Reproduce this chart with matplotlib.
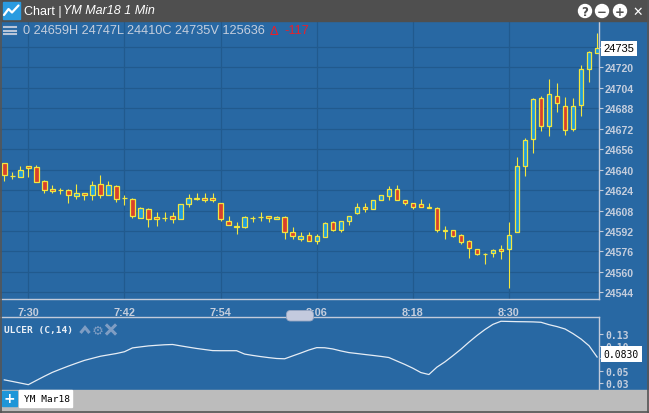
import matplotlib
matplotlib.use("Agg")
import matplotlib.pyplot as plt
from matplotlib.patches import Rectangle, Circle, FancyBboxPatch
from matplotlib.transforms import blended_transform_factory
import numpy as np
import pandas as pd

# --- data: YM Mar18, 1 minute bars from 7:27 ---
start = "2018-03-01 07:27"
opens = [24645, 24635, 24634, 24643, 24642, 24631, 24625, 24624, 24624, 24619,
         24622, 24620, 24629, 24620, 24627, 24618, 24617, 24602, 24609, 24603,
         24602, 24604, 24601, 24613, 24618, 24618, 24618, 24614, 24600, 24596,
         24595, 24602, 24603, 24604, 24601, 24603, 24591, 24586, 24589, 24584,
         24587, 24599, 24593, 24600, 24606, 24611, 24609, 24616, 24619, 24625,
         24616, 24614, 24613, 24611, 24610, 24593, 24593, 24589, 24584, 24578,
         24574, 24575, 24578, 24578, 24591, 24643, 24664, 24696, 24674, 24698,
         24690, 24672, 24691, 24719, 24731]
highs = [24645, 24638, 24643, 24643, 24644, 24632, 24628, 24626, 24625, 24629,
         24622, 24631, 24636, 24631, 24628, 24620, 24618, 24611, 24610, 24607,
         24607, 24607, 24613, 24621, 24622, 24622, 24622, 24614, 24604, 24599,
         24604, 24604, 24607, 24604, 24604, 24604, 24595, 24591, 24591, 24590,
         24599, 24600, 24600, 24604, 24614, 24614, 24616, 24620, 24627, 24628,
         24616, 24614, 24617, 24614, 24611, 24596, 24593, 24590, 24585, 24578,
         24575, 24578, 24581, 24599, 24650, 24665, 24696, 24698, 24711, 24708,
         24697, 24696, 24722, 24733, 24747]
lows = [24631, 24633, 24634, 24634, 24630, 24622, 24622, 24621, 24614, 24617,
        24616, 24616, 24618, 24620, 24615, 24612, 24602, 24602, 24595, 24596,
        24600, 24598, 24601, 24611, 24616, 24615, 24615, 24600, 24597, 24590,
        24594, 24599, 24600, 24599, 24601, 24586, 24586, 24584, 24584, 24582,
        24587, 24592, 24591, 24597, 24605, 24607, 24609, 24616, 24616, 24616,
        24612, 24609, 24611, 24610, 24591, 24586, 24587, 24582, 24571, 24573,
        24566, 24572, 24570, 24547, 24591, 24635, 24653, 24670, 24666, 24685,
        24667, 24670, 24682, 24709, 24731]
closes = [24636, 24635, 24640, 24641, 24630, 24624, 24623, 24624, 24620, 24622,
          24620, 24628, 24620, 24628, 24617, 24618, 24604, 24610, 24601, 24601,
          24602, 24601, 24613, 24618, 24617, 24616, 24616, 24601, 24597, 24595,
          24603, 24602, 24603, 24602, 24603, 24591, 24588, 24588, 24584, 24588,
          24598, 24593, 24600, 24604, 24611, 24609, 24616, 24620, 24625, 24616,
          24614, 24611, 24611, 24610, 24593, 24592, 24588, 24583, 24579, 24574,
          24574, 24577, 24576, 24589, 24643, 24663, 24695, 24674, 24699, 24692,
          24671, 24690, 24719, 24732, 24735]
ulcer = [0.0364, 0.0332, 0.0299, 0.0266, 0.0352, 0.0437, 0.0517, 0.0582, 0.0645, 0.0704,
         0.0761, 0.0804, 0.0846, 0.0874, 0.0902, 0.0938, 0.1016, 0.1037, 0.1057, 0.1069,
         0.1080, 0.1086, 0.1058, 0.1031, 0.1005, 0.0983, 0.0961, 0.0959, 0.0959, 0.0959,
         0.0890, 0.0863, 0.0839, 0.0818, 0.0800, 0.0794, 0.0853, 0.0911, 0.0972, 0.1022,
         0.1019, 0.0995, 0.0955, 0.0921, 0.0902, 0.0882, 0.0863, 0.0843, 0.0820, 0.0749,
         0.0679, 0.0602, 0.0513, 0.0473, 0.0623, 0.0731, 0.0857, 0.0989, 0.1133, 0.1268,
         0.1391, 0.1497, 0.1560, 0.1556, 0.1552, 0.1550, 0.1547, 0.1539, 0.1490, 0.1451,
         0.1402, 0.1307, 0.1197, 0.1059, 0.0830]

time_ticks = ["7:30", "7:42", "7:54", "8:06", "8:18", "8:30"]
price_ticks = list(range(24544, 24737, 16))
ulcer_ticks = [0.03, 0.055, 0.08, 0.105, 0.13]
ulcer_tick_labels = ["0.03", "0.05", "", "0.10", "0.13"]  # 0.08 sits under the value box
header_text = "0 24659H 24747L 24410C 24735V 125636"
change = -117

# colours
BLUE = "#2868a3"
GRID = "#215a8e"
AXIS = "#c3cbda"
LABEL = "#c5cedd"
YELLOW = "#f2e640"
UP = "#1e9be0"
DOWN = "#d8402c"
BAR = "#4f4f4f"
ICON = "#7f9dc3"

W, H = 649, 414


def box(x0, y0, x1, y1):
    # pixel box (top-left origin) -> figure fraction
    return [x0 / W, 1 - y1 / H, (x1 - x0) / W, (y1 - y0) / H]


fig = plt.figure(figsize=(W / 100, H / 100), dpi=100, facecolor=BLUE)
ax = fig.add_axes(box(0, 22, 598.7, 300), facecolor=BLUE)
low = fig.add_axes(box(0, 317.7, 598.7, 391), facecolor=BLUE)

n = len(opens)
x = np.arange(n)
o = np.array(opens)
c = np.array(closes)
fills = [UP if cc > oo else DOWN for oo, cc in zip(o, c)]

# candles
ax.vlines(x, lows, highs, color=YELLOW, lw=0.8, zorder=2)
ax.bar(x, np.abs(c - o), bottom=np.minimum(o, c), width=0.55, color=fills,
       edgecolor=YELLOW, linewidth=0.9, zorder=3)
ax.set_xlim(-0.537, 74.2)
ax.set_ylim(24538.75, 24756.4)

times = pd.date_range(start, periods=n, freq="min")
labels = [f"{t.hour}:{t.minute:02d}" for t in times]
pos = [i for i, l in enumerate(labels) if l in time_ticks]
ax.set_xticks(pos)
ax.set_xticklabels([labels[i] for i in pos], fontweight="bold")
ax.tick_params(axis="x", length=0, pad=6, labelcolor=LABEL, labelsize=7.8)

ax.yaxis.tick_right()
ax.set_yticks(price_ticks)
ax.set_yticklabels([str(p) if p != price_ticks[-1] else "" for p in price_ticks],
                   fontweight="bold")
ax.tick_params(axis="y", length=3, width=0.8, color=AXIS, pad=1.5,
               labelcolor=LABEL, labelsize=7.6)
for lab in ax.get_xticklabels() + ax.get_yticklabels():
    lab.set_family("Liberation Sans")
ax.grid(True, color=GRID, lw=0.9)
ax.set_axisbelow(True)
for s in ["top", "left"]:
    ax.spines[s].set_visible(False)
for s in ["right", "bottom"]:
    ax.spines[s].set_color(AXIS)
    ax.spines[s].set_linewidth(1)

trans = blended_transform_factory(ax.transAxes, ax.transData)
ax.text(1.008, closes[-1], str(closes[-1]), transform=trans, va="center", ha="left",
        fontsize=8, family="Liberation Sans", color="black", clip_on=False, zorder=10,
        bbox=dict(boxstyle="square,pad=0.22", fc="white", ec="none"))

# ulcer index panel
low.plot(x, ulcer, color="#e6edf5", lw=0.9)
low.set_xlim(-0.537, 74.2)
low.set_ylim(0.0157, 0.1653)
low.set_xticks([])
low.yaxis.tick_right()
low.set_yticks(ulcer_ticks)
low.set_yticklabels(ulcer_tick_labels, family="DejaVu Sans Mono", fontweight="bold")
low.tick_params(axis="y", length=3, width=0.8, color=AXIS, pad=1.5,
                labelcolor=LABEL, labelsize=7)
for s in ["bottom", "left"]:
    low.spines[s].set_visible(False)
for s in ["top", "right"]:
    low.spines[s].set_color(AXIS)
    low.spines[s].set_linewidth(1)
trans2 = blended_transform_factory(low.transAxes, low.transData)
low.text(1.008, ulcer[-1] + 0.006, f"{ulcer[-1]:.4f}", transform=trans2, va="center",
         ha="left", fontsize=7, family="DejaVu Sans Mono", color="black",
         clip_on=False, zorder=10,
         bbox=dict(boxstyle="square,pad=0.3", fc="white", ec="none"))

# window chrome drawn in pixel coordinates
ui = fig.add_axes([0, 0, 1, 1], zorder=5)
ui.set_xlim(0, W)
ui.set_ylim(H, 0)
ui.axis("off")
ui.patch.set_visible(False)

ui.add_patch(Rectangle((0, 0), W, 21.5, color=BAR))
ui.add_patch(Rectangle((2.7, 3.3), 17.3, 16.7, color="#2a9be0"))
ui.plot([4, 8.5, 12, 18.5], [16, 10, 13.5, 6.5], color="white", lw=1.6,
        solid_capstyle="round")
ui.text(24, 11.5, "Chart |", color="white", fontsize=9, family="Liberation Sans",
        va="center")
ui.text(63, 11.5, "YM Mar18 1 Min", color="white", fontsize=9, style="italic",
        family="Liberation Sans", va="center")
for cx, g in [(585, "?"), (602, "\u2212"), (620, "+")]:
    ui.add_patch(Circle((cx, 12), 6.5, color="white"))
    ui.text(cx, 12.3, g, color=BAR, fontsize=8.5, fontweight="bold", ha="center",
            va="center", family="DejaVu Sans")
ui.text(638, 12.3, "\u2715", color="white", fontsize=9, fontweight="bold",
        ha="center", va="center", family="DejaVu Sans")

# header row
for yy in [28, 31.7, 35.3]:
    ui.plot([4, 15.7], [yy, yy], color="#b9c5d8", lw=1.5)
ui.text(23, 31.5, header_text, color=LABEL, fontsize=9.2,
        family="Liberation Sans", va="center")
ui.text(270, 31.5, "\u0394", color="#e8202a", fontsize=9, family="DejaVu Sans",
        va="center")
ui.text(284, 31.5, str(change), color="#e8202a", fontsize=9.2,
        family="Liberation Sans", va="center")

# slider handle between panels
ui.add_patch(FancyBboxPatch((286.5, 311.5), 27, 10.5,
                            boxstyle="round,pad=0,rounding_size=4",
                            fc="#c3cade", ec="#9aa7c2", lw=0.6))

# study legend
ui.text(3.5, 330.5, "ULCER (C,14)", color="#eaf0f7", fontsize=6.8, fontweight="bold",
        family="DejaVu Sans Mono", va="center")
ui.plot([80.5, 85, 89.5], [334, 328.5, 334], color=ICON, lw=2.2,
        solid_capstyle="butt", solid_joinstyle="miter")
ui.text(97.5, 331, "\u2699", color=ICON, fontsize=9.5, fontweight="bold",
        family="DejaVu Sans", ha="center", va="center")
ui.plot([107, 115], [326.5, 334.5], color=ICON, lw=2.2)
ui.plot([107, 115], [334.5, 326.5], color=ICON, lw=2.2)

# bottom tab bar
ui.add_patch(Rectangle((0, 391), W, 23, color="#bcbcbc"))
ui.add_patch(Rectangle((2, 391.7), 15.4, 15.6, color="#1e96d8"))
ui.text(9.7, 399.5, "+", color="white", fontsize=10, fontweight="bold",
        ha="center", va="center", family="DejaVu Sans")
ui.add_patch(Rectangle((18.6, 390.7), 53.8, 17.6, color="white"))
ui.text(24, 399.5, "YM Mar18", color="black", fontsize=6.8,
        family="DejaVu Sans Mono", va="center")

# window border
ui.plot([0.6, 0.6], [0, H], color="#555555", lw=1.2)
ui.plot([W - 0.6, W - 0.6], [0, H], color="#555555", lw=1.2)
ui.plot([0, W], [H - 0.8, H - 0.8], color="#555555", lw=1.2)

fig.savefig("out.png", dpi=100, facecolor=BLUE)
